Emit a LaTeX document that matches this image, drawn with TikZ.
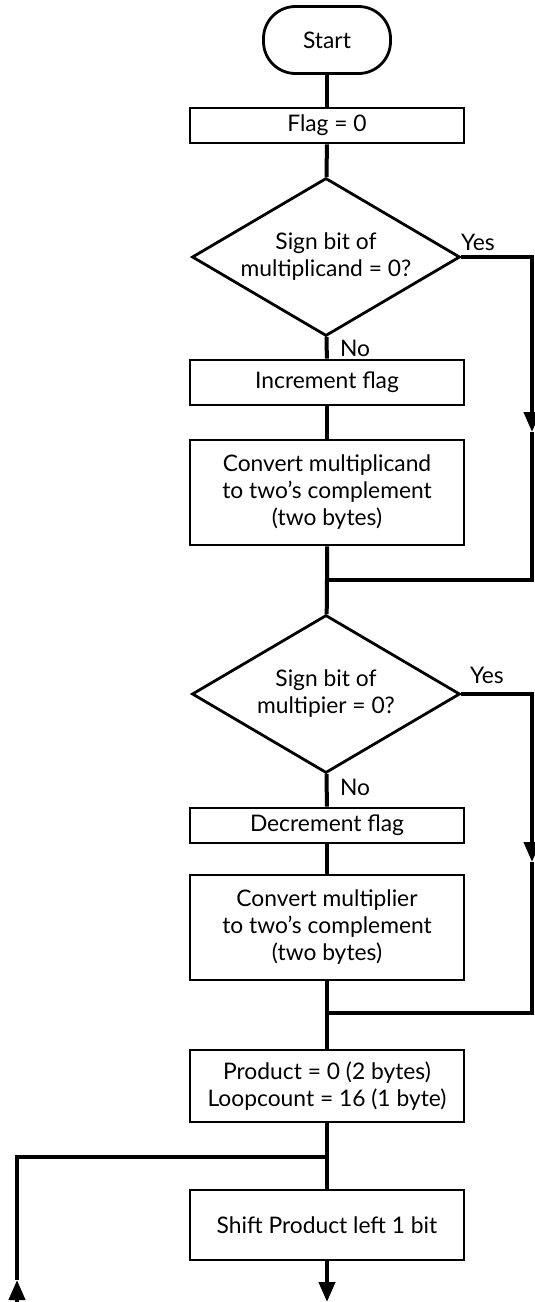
\documentclass[tikz,border=0pt]{standalone}
\usepackage{fontspec}
\setmainfont{Lato}
\usetikzlibrary{shapes.geometric,arrows.meta}
\begin{document}
\begin{tikzpicture}[x=0.5pt,y=-0.5pt,
  font=\fontsize{11.4}{13.5}\selectfont,
  box/.style={draw,line width=1.4pt,minimum width=137pt,inner sep=0pt,align=center},
  term/.style={draw,line width=1.4pt,rounded corners=16pt,minimum width=63.5pt,minimum height=33.5pt},
  decision/.style={draw,diamond,aspect=1.7,line width=1.4pt,minimum width=134pt,minimum height=79pt,inner sep=0pt,align=center},
  flow/.style={line width=2pt},
  tip/.style={line width=2pt,-{Triangle[length=10pt,width=8pt]}}]
\useasboundingbox (0,0) rectangle (535,1302);

% main column
\node[term] (start) at (327,40) {Start};
\node[box,minimum height=17.5pt] (flag) at (327,125.5) {Flag = 0};
\node[decision] (d1) at (326,257) {Sign bit of\\multiplicand = 0?};
\node[box,minimum height=22.5pt] (inc) at (327,382.5) {Increment flag};
\node[box,minimum height=52.5pt] (conv1) at (327,492.5) {Convert multiplicand\\to two's complement\\(two bytes)};
\coordinate (j1) at (327,580);
\node[decision] (d2) at (326,694) {Sign bit of\\multipier = 0?};
\node[box,minimum height=17.5pt] (dec) at (327,825.5) {Decrement flag};
\node[box,minimum height=52.5pt] (conv2) at (327,927.5) {Convert multiplier\\to two's complement\\(two bytes)};
\coordinate (j2) at (327,1013);
\node[box,minimum height=36pt] (prod) at (327,1086) {Product = 0 (2 bytes)\\Loopcount = 16 (1 byte)};
\coordinate (br) at (327,1157);
\node[box,minimum height=35pt] (shift) at (327,1225) {Shift Product left 1 bit};
\coordinate (out) at (327,1302);

% right-hand bypass coordinates
\coordinate (r1a) at (532,257);
\coordinate (r1b) at (532,432);
\coordinate (r1c) at (532,580);
\coordinate (r2a) at (532,694);
\coordinate (r2b) at (532,862);
\coordinate (r2c) at (532,1013);

% loop-back coordinates on the left
\coordinate (l0) at (17,1302);
\coordinate (l1) at (17,1280);
\coordinate (l2) at (17,1157);

% labels
\node (yes1) at (478,242) {Yes};
\node (no1) at (355,348) {No};
\node (yes2) at (487,675) {Yes};
\node (no2) at (355,787) {No};

% connectors
\draw[flow] (start) -- (flag);
\draw[flow] (flag) -- (d1);
\draw[flow] (d1) -- (inc);
\draw[flow] (inc) -- (conv1);
\draw[flow] (conv1) -- (j1) -- (d2);
\draw[tip] (d1.east) -- (r1a) -- (r1b);
\draw[flow] (r1b) -- (r1c) -- (j1);
\draw[flow] (d2) -- (dec);
\draw[flow] (dec) -- (conv2);
\draw[flow] (conv2) -- (j2) -- (prod);
\draw[tip] (d2.east) -- (r2a) -- (r2b);
\draw[flow] (r2b) -- (r2c) -- (j2);
\draw[flow] (prod) -- (br) -- (shift);
\draw[tip] (shift) -- (out);
\draw[tip] (l0) -- (l1);
\draw[flow] (l1) -- (l2) -- (br);
\end{tikzpicture}
\end{document}
